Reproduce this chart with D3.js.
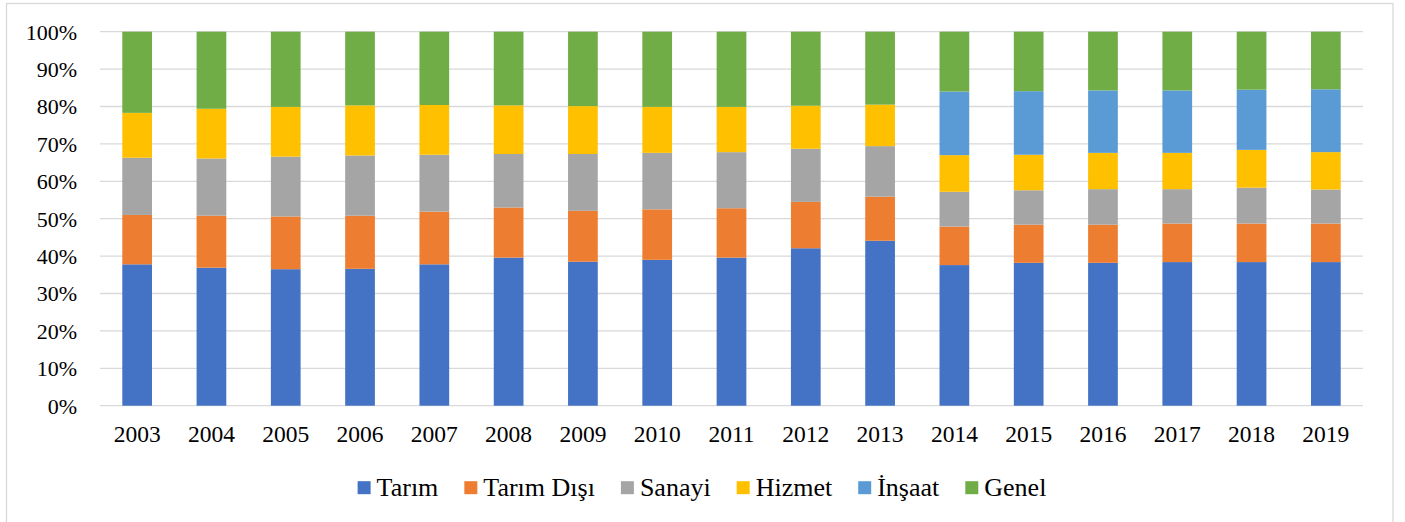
<!DOCTYPE html>
<html>
<head>
<meta charset="utf-8">
<script src="https://cdn.jsdelivr.net/npm/d3@7"></script>
<style>
  body { margin: 0; background: #fff; }
</style>
</head>
<body>
<div id="chart"></div>
<script>
// Data (percent shares per year)
const years = ["2003", "2004", "2005", "2006", "2007", "2008", "2009", "2010", "2011",
               "2012", "2013", "2014", "2015", "2016", "2017", "2018", "2019"];
const seriesNames = ["Tarım", "Tarım Dışı", "Sanayi", "Hizmet", "İnşaat", "Genel"];
const tarim     = [37.8, 36.9, 36.5, 36.6, 37.8, 39.6, 38.5, 39.0, 39.6, 42.1, 44.1, 37.6, 38.2, 38.2, 38.4, 38.4, 38.4];
const tarimDisi = [13.2, 13.9, 14.1, 14.2, 14.1, 13.4, 13.6, 13.5, 13.2, 12.4, 11.8, 10.3, 10.2, 10.2, 10.3, 10.3, 10.3];
const sanayi    = [15.3, 15.3, 16.0, 16.1, 15.2, 14.3, 15.2, 15.1, 15.0, 14.2, 13.5,  9.3,  9.2,  9.5,  9.2,  9.6,  9.1];
const hizmet    = [12.0, 13.3, 13.3, 13.4, 13.3, 13.0, 12.8, 12.3, 12.1, 11.5, 11.1,  9.8,  9.5,  9.7,  9.7, 10.1, 10.0];
const insaat    = [   0,    0,    0,    0,    0,    0,    0,    0,    0,    0,    0, 17.0, 17.0, 16.7, 16.7, 16.1, 16.8];
const genel     = [21.7, 20.6, 20.1, 19.7, 19.6, 19.7, 19.9, 20.1, 20.1, 19.8, 19.5, 16.0, 15.9, 15.7, 15.7, 15.5, 15.4];
const yTicks = [0, 0.1, 0.2, 0.3, 0.4, 0.5, 0.6, 0.7, 0.8, 0.9, 1];

const colors = ["#4472C4", "#ED7D31", "#A5A5A5", "#FFC000", "#5B9BD5", "#70AD47"];
const serif = "'Liberation Serif', 'Times New Roman', 'DejaVu Serif', serif";

const W = 1405, H = 522;
const plot = { left: 100, right: 1363, top: 31.7, bottom: 405.7 };

// Build table for d3.stack
const allSeries = [tarim, tarimDisi, sanayi, hizmet, insaat, genel];
const table = years.map((y, i) => {
    const row = { year: y };
    seriesNames.forEach((s, k) => { row[s] = allSeries[k][i]; });
    return row;
});

const stacked = d3.stack()
    .keys(seriesNames)
    .offset(d3.stackOffsetExpand)(table);

const svg = d3.select("#chart")
    .append("svg")
    .attr("width", W)
    .attr("height", H);

// Chart frame
svg.append("rect")
    .attr("x", 6.5).attr("y", 3.5)
    .attr("width", 1386.5).attr("height", 530)
    .attr("fill", "#fff")
    .attr("stroke", "#d9d9d9")
    .attr("stroke-width", 1.3);

const x = d3.scaleBand()
    .domain(years)
    .range([plot.left, plot.right])
    .paddingInner(0.6)
    .paddingOuter(0.3);

const y = d3.scaleLinear()
    .domain([0, 1])
    .range([plot.bottom, plot.top]);

// Gridlines
svg.append("g")
    .selectAll("line")
    .data(yTicks)
    .join("line")
    .attr("x1", plot.left).attr("x2", plot.right)
    .attr("y1", d => y(d)).attr("y2", d => y(d))
    .attr("stroke", "#d9d9d9")
    .attr("stroke-width", 1.3);

// Y axis labels
const yAxis = svg.append("g")
    .attr("transform", `translate(${plot.left - 23},0)`)
    .call(d3.axisLeft(y).tickValues(yTicks).tickFormat(d3.format(".0%")).tickSize(0).tickPadding(0))
    .attr("font-family", serif)
    .attr("font-size", 22);
yAxis.select(".domain").remove();
yAxis.selectAll("text")
    .attr("dy", "0.34em")
    .attr("fill", "#000");

// Stacked bars
svg.append("g")
    .selectAll("g")
    .data(stacked)
    .join("g")
    .attr("fill", (d, i) => colors[i])
    .selectAll("rect")
    .data(d => d)
    .join("rect")
    .attr("x", d => x(d.data.year))
    .attr("width", x.bandwidth())
    .attr("y", d => y(d[1]))
    .attr("height", d => Math.max(0, y(d[0]) - y(d[1])));

// X axis labels
const xAxis = svg.append("g")
    .attr("transform", `translate(0,${plot.bottom})`)
    .call(d3.axisBottom(x).tickSize(0).tickPadding(0))
    .attr("font-family", serif)
    .attr("font-size", 23.5);
xAxis.select(".domain").remove();
xAxis.selectAll("text")
    .attr("dy", "36px")
    .attr("fill", "#000");

// Legend, centred on the chart frame
const legend = svg.append("g")
    .attr("font-family", serif)
    .attr("font-size", 26);
const items = legend.selectAll("g")
    .data(seriesNames)
    .join("g");
items.append("rect")
    .attr("width", 13).attr("height", 13)
    .attr("y", -14.5)
    .attr("fill", (d, i) => colors[i]);
items.append("text")
    .attr("x", 19)
    .attr("fill", "#000")
    .text(d => d);

const spacing = 26;
let cursor = 0;
items.each(function() {
    const g = d3.select(this);
    const tw = g.select("text").node().getComputedTextLength();
    g.attr("transform", `translate(${cursor},0)`);
    cursor += 19 + tw + spacing;
});
const legendWidth = cursor - spacing;
legend.attr("transform", `translate(${702 - legendWidth / 2},495.7)`);
</script>
</body>
</html>
